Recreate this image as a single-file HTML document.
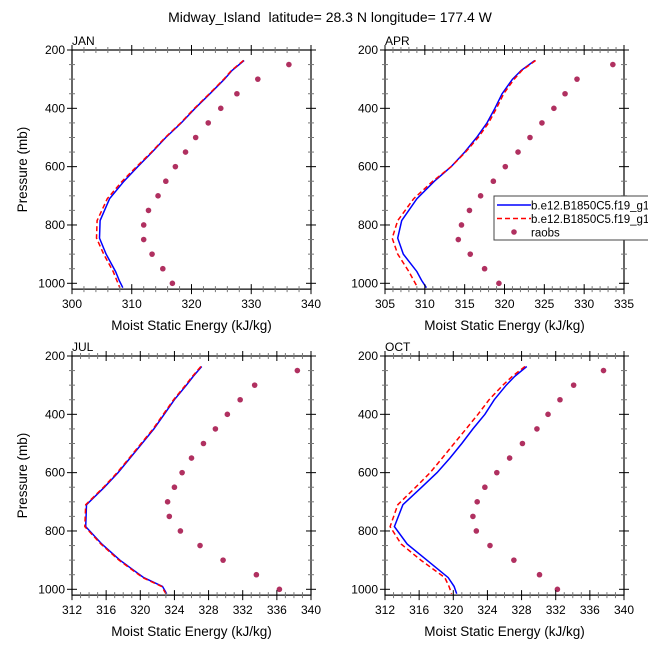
<!DOCTYPE html>
<html><head><meta charset="utf-8"><style>
body{margin:0;background:#fff;}
svg text{font-family:"Liberation Sans",sans-serif;fill:#000;white-space:pre;}
</style></head><body>
<svg id="chart" width="648" height="648" viewBox="0 0 648 648">
<text x="330" y="22" font-size="14" text-anchor="middle" xml:space="preserve">Midway_Island  latitude= 28.3 N longitude= 177.4 W</text>
</svg>
<script>
const modelLevels=[236,270,300,350,400,450,500,550,600,650,710,785,845,900,960,990,1015];
const obsLevels=[250,300,350,400,450,500,550,600,650,700,750,800,850,900,950,1000];
const panelNames=["JAN","APR","JUL","OCT"];
const janBlue=[328.8,326.8,325.5,323.1,320.6,318.3,315.7,313.4,311.0,308.7,306.3,304.7,304.6,305.7,307.3,307.9,308.5];
const janRed=[328.7,326.7,325.4,323.0,320.5,318.2,315.6,313.3,310.8,308.4,305.9,304.2,304.1,305.3,306.9,307.5,308.0];
const janObs=[336.3,331.1,327.6,324.9,322.8,320.7,319.0,317.3,315.7,314.4,312.8,312.0,312.0,313.4,315.2,316.8];
const aprBlue=[323.8,322.1,321.0,319.7,318.8,317.8,316.5,315.0,313.3,311.2,309.0,307.1,306.6,307.3,309.0,309.6,310.2];
const aprRed=[323.9,322.2,321.2,319.9,319.0,318.0,316.7,315.1,313.3,311.0,308.6,306.6,305.9,306.6,308.0,308.6,309.1];
const aprObs=[333.6,329.1,327.6,326.2,324.7,323.2,321.7,320.1,318.6,317.0,315.6,314.6,314.2,315.7,317.5,319.3];
const julBlue=[327.2,326.2,325.4,324.0,322.8,321.6,320.2,318.8,317.4,315.8,313.7,313.6,315.5,317.6,320.4,322.6,323.1];
const julRed=[327.1,326.1,325.3,323.9,322.7,321.5,320.1,318.7,317.3,315.7,313.6,313.5,315.4,317.5,320.3,322.5,323.0];
const julObs=[338.4,333.4,331.7,330.2,328.8,327.4,326.0,324.9,324.0,323.2,323.4,324.7,327.0,329.7,333.6,336.3];
const octBlue=[328.6,327.2,326.2,324.8,323.7,322.3,321.0,319.6,318.1,316.3,314.1,313.1,314.6,316.9,319.4,320.1,320.4];
const octRed=[328.4,326.9,325.8,324.2,322.9,321.5,320.1,318.7,317.3,315.6,313.5,312.6,313.9,316.2,319.0,319.5,319.8];
const octObs=[337.6,334.1,332.5,331.1,329.8,328.1,326.6,325.1,323.7,322.8,322.3,322.7,324.3,327.1,330.1,332.2];
const yTicks=[200,400,600,800,1000];
const xTicksJan=[300,310,320,330,340];
const xTicksApr=[305,310,315,320,325,330,335];
const xTicksJul=[312,316,320,324,328,332,336,340];

const NS="http://www.w3.org/2000/svg";
const svg=document.getElementById('chart');
function mk(tag,attrs,parent){const e=document.createElementNS(NS,tag);for(const k in attrs)e.setAttribute(k,attrs[k]);(parent||svg).appendChild(e);return e;}

const panels=[
 {name:panelNames[0],x0:72,y0:50,xmin:300,xmax:340,ticks:xTicksJan,minor:2,blue:janBlue,red:janRed,obs:janObs,ytitle:true},
 {name:panelNames[1],x0:385,y0:50,xmin:305,xmax:335,ticks:xTicksApr,minor:1,blue:aprBlue,red:aprRed,obs:aprObs,ytitle:false,legend:true},
 {name:panelNames[2],x0:72,y0:356,xmin:312,xmax:340,ticks:xTicksJul,minor:1,blue:julBlue,red:julRed,obs:julObs,ytitle:true},
 {name:panelNames[3],x0:385,y0:356,xmin:312,xmax:340,ticks:xTicksJul,minor:1,blue:octBlue,red:octRed,obs:octObs,ytitle:false}
];
const W=239,PH=233.3/800;
panels.forEach(p=>{
  const key=p.name.toLowerCase();
  const g=mk('g',{});
  
  
  const xs=v=>p.x0+(v-p.xmin)/(p.xmax-p.xmin)*W;
  const ys=pr=>p.y0+(pr-200)*PH;
  const yb=ys(1020);
  const lineFor=(arr,color,dash,nm)=>{
    const d=arr.map((v,i)=>(i?'L':'M')+xs(v).toFixed(1)+' '+ys(modelLevels[i]).toFixed(1)).join(' ');
    const pa=mk('path',{d:d,fill:'none',stroke:color,'stroke-width':1.5},g);
    if(dash)pa.setAttribute('stroke-dasharray',dash);
    
    
  };
  lineFor(p.blue,'#0000ff',null,key+'-model-line-1');
  lineFor(p.red,'#ff0000','5 3',key+'-model-line-2');
  p.obs.forEach((v,i)=>{
    const c=mk('circle',{cx:xs(v),cy:ys(obsLevels[i]),r:2.8,fill:'#b03060'},g);
    
    
  });
  const fr=mk('rect',{x:p.x0,y:p.y0,width:W,height:yb-p.y0,fill:'none',stroke:'#000','stroke-width':1.2},g);
  
  
  for(let pr=200;pr<=1000;pr+=50){
    const y=ys(pr),maj=pr%200===0,L=maj?5:3,c=maj?'#000':'#777';
    mk('line',{x1:p.x0-L,x2:p.x0+L,y1:y,y2:y,stroke:c,'stroke-width':1},g);
    mk('line',{x1:p.x0+W-L,x2:p.x0+W+L,y1:y,y2:y,stroke:c,'stroke-width':1},g);
  }
  yTicks.forEach(t=>{
    const tx=mk('text',{x:p.x0-7,y:ys(t)+4,'font-size':12,'text-anchor':'end'},g);
    tx.textContent=t;
    
    
  });
  for(let v=p.xmin;v<=p.xmax+1e-6;v+=p.minor){
    const x=xs(v),maj=p.ticks.some(t=>Math.abs(t-v)<1e-6),L=maj?5:3,c=maj?'#000':'#777';
    mk('line',{x1:x,x2:x,y1:yb-L,y2:yb+L,stroke:c,'stroke-width':1},g);
    mk('line',{x1:x,x2:x,y1:p.y0-L,y2:p.y0+L,stroke:c,'stroke-width':1},g);
  }
  p.ticks.forEach(t=>{
    const tx=mk('text',{x:xs(t),y:yb+19,'font-size':12,'text-anchor':'middle'},g);
    tx.textContent=t;
    
    
  });
  const xt=mk('text',{x:p.x0+W/2,y:yb+41,'font-size':13.5,'text-anchor':'middle'},g);
  xt.textContent='Moist Static Energy (kJ/kg)';
  
  
  if(p.ytitle){
    const cy=(p.y0+yb)/2;
    const yt=mk('text',{x:27,y:cy,'font-size':13.5,'text-anchor':'middle',transform:'rotate(-90 27 '+cy+')'},g);
    yt.textContent='Pressure (mb)';
    
    
  }
  const pl=mk('text',{x:p.x0,y:p.y0-5,'font-size':12},g);
  pl.textContent=p.name;
  
  
  if(p.legend){
    const lg=mk('g',{},g);
    
    
    mk('rect',{x:494,y:196,width:160,height:44,fill:'#fff',stroke:'#444','stroke-width':1},lg);
    mk('line',{x1:497,x2:531,y1:205,y2:205,stroke:'#0000ff','stroke-width':1.5},lg);
    mk('line',{x1:497,x2:531,y1:218.5,y2:218.5,stroke:'#ff0000','stroke-width':1.5,'stroke-dasharray':'5 3'},lg);
    mk('circle',{cx:514,cy:232,r:2.8,fill:'#b03060'},lg);
    [['b.e12.B1850C5.f19_g16',209.5],['b.e12.B1850C5.f19_g16',223],['raobs',236.5]].forEach((a,i)=>{
      const t=mk('text',{x:531,y:a[1],'font-size':11.5},lg);
      t.textContent=a[0];
      
      
    });
  }
});
</script>
</body></html>
